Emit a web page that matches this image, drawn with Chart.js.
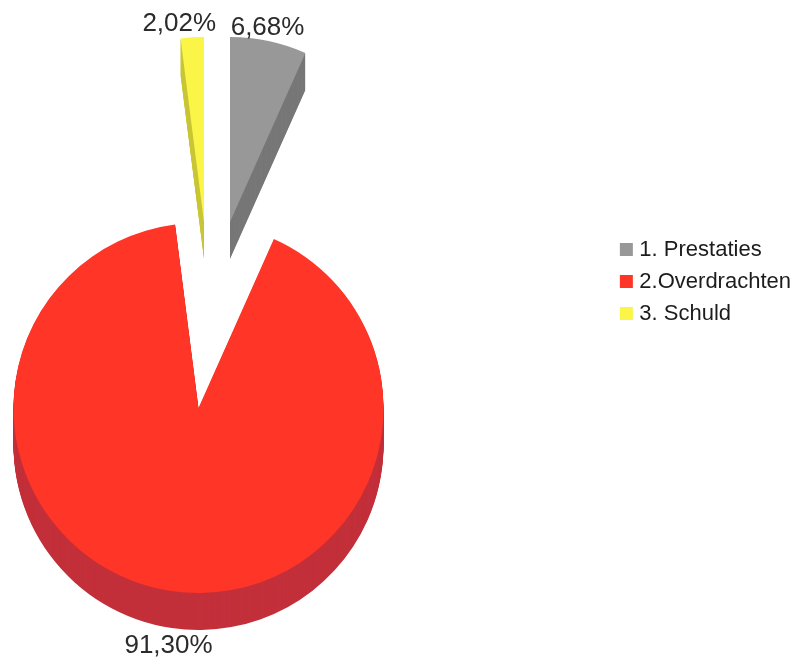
<!DOCTYPE html>
<html>
<head>
<meta charset="utf-8">
<title>Uitgaven</title>
<script src="https://cdn.jsdelivr.net/npm/chart.js@4"></script>
<style>
  html, body { margin: 0; background: #fff; }
  #wrap { position: relative; width: 799px; height: 665px; }
  #myChart { filter: blur(0.4px); }
</style>
</head>
<body>
<div id="wrap"><canvas id="myChart"></canvas></div>
<script>
const categories = ["1. Prestaties", "2.Overdrachten", "3. Schuld"];
const shares = [6.68, 91.3, 2.02];
const shareLabels = ["6,68%", "91,30%", "2,02%"];

const faceColors = ["#989898", "#fe3527", "#fbf547"];
const sideColors = ["#777777", "#c3303a", "#c9c636"];

const pieCentre = { x: 198.5, y: 408 };
const sliceShift = [[31.5, -186], [0, 0], [5.5, -186]];
const labelNudge = [[-1, -13], [-3, 55], [-13, -14]];
const depth = 37;

const explodedPie = {
  id: "explodedPie",
  afterDatasetsUpdate(chart) {
    chart.getDatasetMeta(0).data.forEach((arc, i) => {
      arc.x = pieCentre.x + sliceShift[i][0];
      arc.y = pieCentre.y + sliceShift[i][1];
    });
  },
  // side wall of each slice: the same arc stamped downwards in the darker colour
  beforeDatasetsDraw(chart) {
    const ctx = chart.ctx;
    chart.getDatasetMeta(0).data.forEach((arc, i) => {
      const faceOptions = arc.options;
      arc.options = { ...faceOptions, backgroundColor: sideColors[i] };
      for (let d = depth; d > 0; d--) {
        ctx.save();
        ctx.translate(0, d);
        arc.draw(ctx);
        ctx.restore();
      }
      arc.options = faceOptions;
    });
  },
  afterDatasetsDraw(chart) {
    const ctx = chart.ctx;
    ctx.save();
    ctx.font = "26px 'Liberation Sans', Arial, sans-serif";
    ctx.fillStyle = "#2b2b2b";
    ctx.textAlign = "center";
    ctx.textBaseline = "middle";
    chart.getDatasetMeta(0).data.forEach((arc, i) => {
      const mid = (arc.startAngle + arc.endAngle) / 2;
      const x = arc.x + Math.cos(mid) * arc.outerRadius + labelNudge[i][0];
      const y = arc.y + Math.sin(mid) * arc.outerRadius + labelNudge[i][1];
      ctx.fillText(shareLabels[i], x, y);
    });
    ctx.restore();
  },
};

new Chart(document.getElementById("myChart"), {
  type: "pie",
  data: {
    labels: categories,
    datasets: [
      {
        data: shares,
        backgroundColor: faceColors,
        borderWidth: 0,
        clip: false,
      },
    ],
  },
  options: {
    responsive: true,
    maintainAspectRatio: false,
    animation: false,
    radius: 185,
    layout: { padding: { right: -2, bottom: 102 } },
    plugins: {
      tooltip: { enabled: false },
      legend: {
        position: "right",
        labels: {
          // narrow box with a thick stroke: keeps the 13px square close to its text
          boxWidth: 4,
          boxHeight: 4,
          padding: 10,
          color: "#1c1c1c",
          font: { family: "'Liberation Sans', Arial, sans-serif", size: 22 },
          generateLabels(chart) {
            const items = Chart.overrides.pie.plugins.legend.labels.generateLabels(chart);
            return items.map((item) => ({
              ...item,
              lineWidth: 9,
              strokeStyle: item.fillStyle,
            }));
          },
        },
      },
    },
  },
  plugins: [explodedPie],
});
</script>
</body>
</html>
